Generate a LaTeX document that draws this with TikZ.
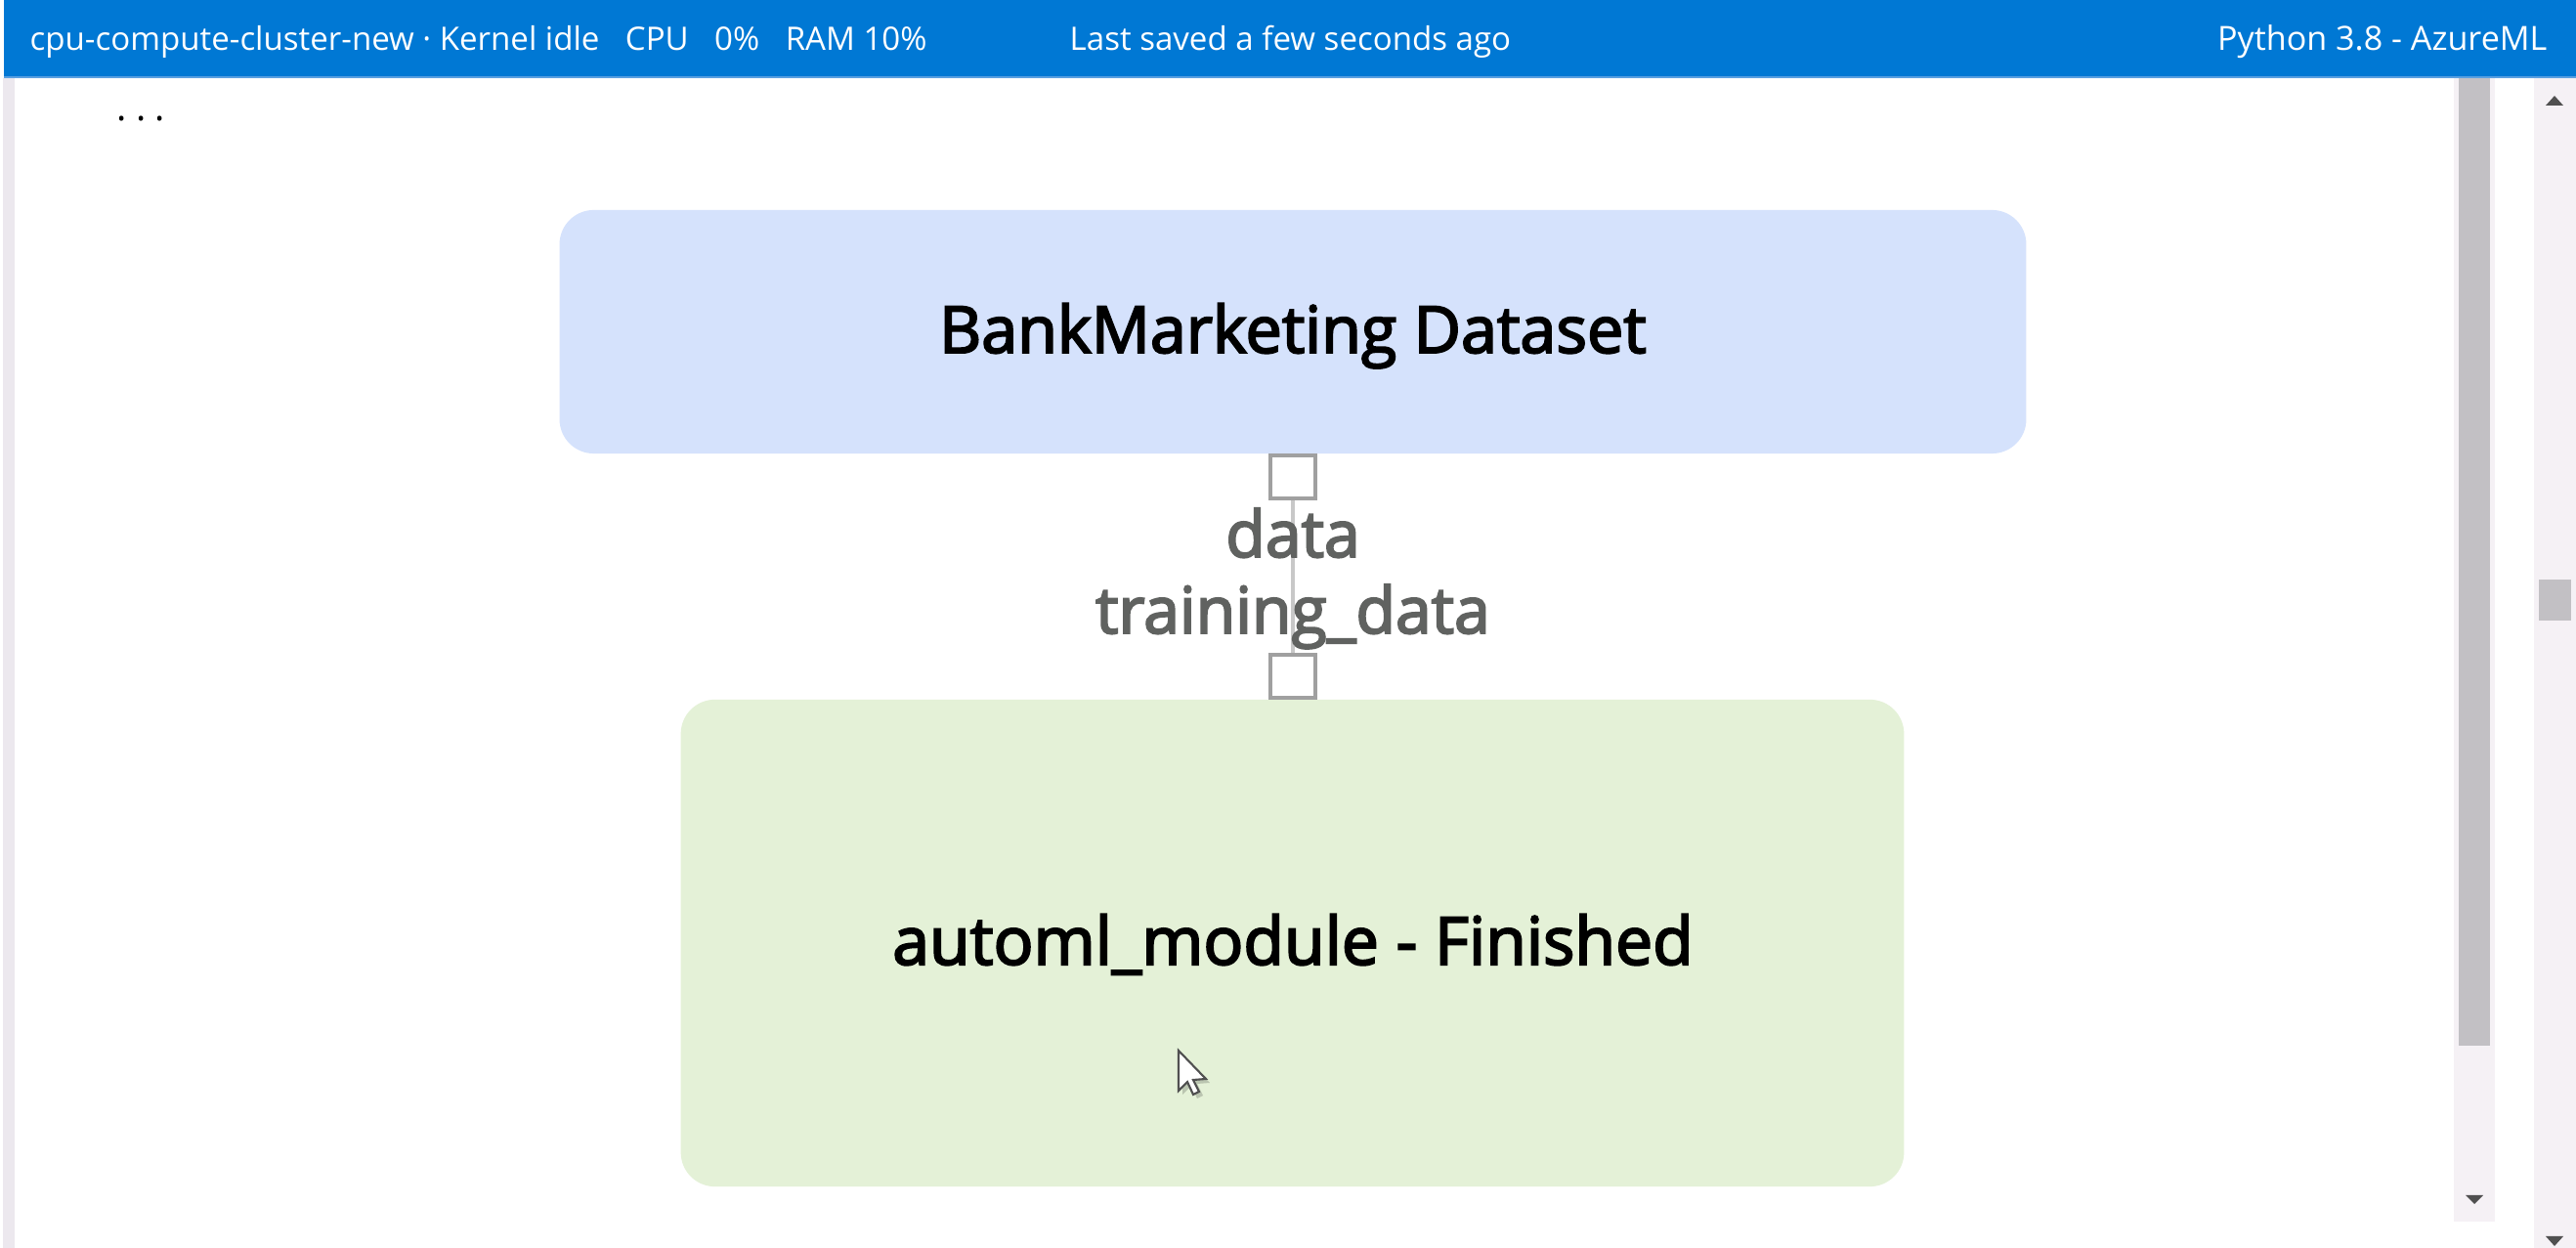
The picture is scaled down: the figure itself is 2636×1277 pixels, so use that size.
\documentclass[tikz,border=0pt]{standalone}
\usepackage{fontspec}
\setmainfont{Open Sans}
\newfontfamily\semifont[FakeBold=3]{Open Sans}
\definecolor{barblue}{RGB}{0,120,212}
\definecolor{barline}{RGB}{90,160,225}
\definecolor{leftstrip}{RGB}{236,232,238}
\definecolor{dsblue}{RGB}{213,226,252}
\definecolor{modgreen}{RGB}{228,241,215}
\definecolor{portgray}{RGB}{160,160,160}
\definecolor{linegray}{RGB}{200,200,200}
\definecolor{labelgray}{RGB}{96,98,96}
\definecolor{track}{RGB}{245,241,245}
\definecolor{thumb}{RGB}{194,192,196}
\definecolor{arrowdark}{RGB}{80,80,80}
\tikzset{
  bartext/.style={text=white, font=\fontsize{9.4}{11}\selectfont, inner sep=0pt},
  stepbox/.style={rounded corners=0.35cm, inner sep=0pt},
  port/.style={draw=portgray, line width=0.95pt, fill=white, minimum width=0.46cm, minimum height=0.44cm, inner sep=0pt},
  portlabel/.style={text=labelgray, font=\semifont\fontsize{18.8}{22}\selectfont, inner sep=0pt},
  boxlabel/.style={font=\semifont\fontsize{18.9}{24}\selectfont, text=black, inner sep=0pt},
  scrollarrow/.style={fill=arrowdark}
}
\begin{document}
\begin{tikzpicture}[x=0.01cm,y=-0.01cm]
\useasboundingbox (0,0) rectangle (2636,1277);
\fill[white] (0,0) rectangle (2636,1277);
% top bar
\fill[barblue] (4,0) rectangle (2636,80);
\fill[barline] (4,78) rectangle (2636,80);
\fill[leftstrip] (3,80) rectangle (15,1277);
\node[bartext, anchor=base west] (status) at (30,52) {cpu-compute-cluster-new · Kernel idle\hspace{0.8em}CPU\hspace{0.8em}0\%\hspace{0.8em}RAM 10\%};
\node[bartext, anchor=base west] (saved) at (1094,52) {Last saved a few seconds ago};
\node[bartext, anchor=base east, font=\fontsize{9.7}{11}\selectfont] (kernel) at (2607,52) {Python 3.8 - AzureML};
\node[anchor=base west, inner sep=0pt, font=\fontsize{11}{12}\selectfont, text=black] (dots) at (119,124) {.\hspace{2.6pt}.\hspace{2.6pt}.};
% boxes
\node[stepbox, fill=dsblue, minimum width=15cm, minimum height=2.49cm] (ds) at (1323,339.5) {};
\node[stepbox, fill=modgreen, minimum width=12.51cm, minimum height=4.98cm] (mod) at (1322.5,965) {};
\node[boxlabel, anchor=base] (dslabel) at (1323,361) {BankMarketing Dataset};
\node[boxlabel, anchor=base, font=\semifont\fontsize{19.3}{24}\selectfont] (modlabel) at (1323,987) {automl\_module - Finished};
% ports and connector
\node[port] (pout) at (1323,488) {};
\node[port] (pin) at (1323,692) {};
\draw[linegray, line width=0.95pt] (pout.south) -- (pin.north);
\node[portlabel, anchor=base] (ldata) at (1323,570) {data};
\node[portlabel, anchor=base] (ltrain) at (1323,648) {training\_data};
% inner scrollbar
\fill[track] (2511,80) rectangle (2553,1250);
\fill[thumb] (2516,80) rectangle (2548,1070);
\fill[scrollarrow] (2523,1223) -- (2541,1223) -- (2532,1232) -- cycle;
% outer scrollbar
\fill[track] (2593,80) rectangle (2636,1277);
\fill[thumb] (2598,593) rectangle (2631,635);
\fill[scrollarrow] (2605,108) -- (2623,108) -- (2614,98) -- cycle;
\fill[scrollarrow] (2605,1265) -- (2623,1265) -- (2614,1275) -- cycle;
% cursor
\begin{scope}[shift={(1206,1075)}]
\fill[black, opacity=0.18] (4,4) -- (4,45) -- (13,36) -- (19,49) -- (25,46) -- (19,34) -- (32,33) -- cycle;
\filldraw[fill=white, draw=arrowdark, line width=0.6pt, line join=miter] (0,0) -- (0,41) -- (9,32) -- (15,45) -- (21,42) -- (15,30) -- (28,29) -- cycle;
\end{scope}
\end{tikzpicture}
\end{document}
